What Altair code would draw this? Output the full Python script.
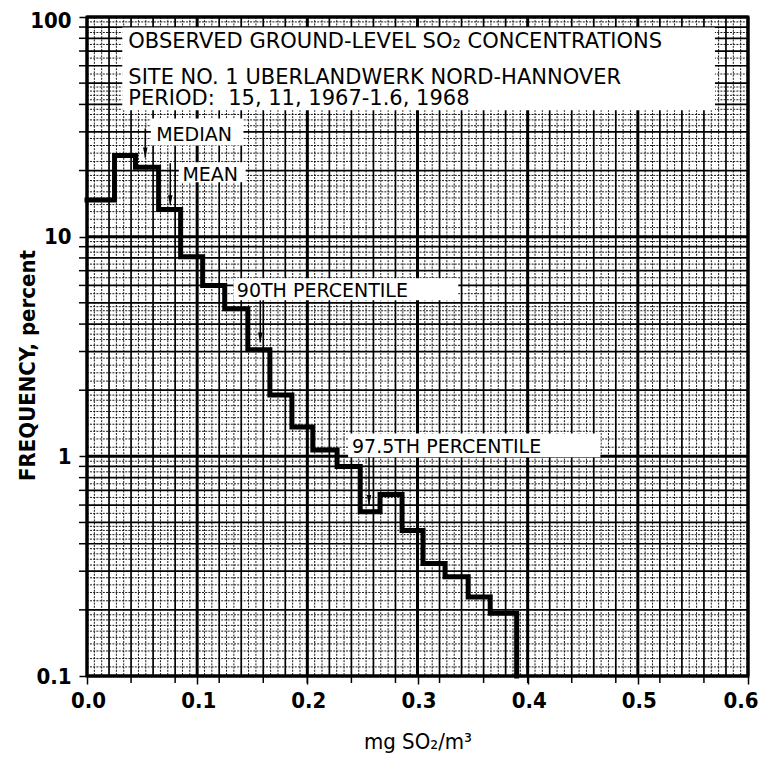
import altair as alt
import pandas as pd
import numpy as np

# ---- data ----
bin_left = [0.0, 0.025, 0.044, 0.065, 0.085, 0.105, 0.125, 0.146, 0.166, 0.186,
            0.205, 0.227, 0.248, 0.266, 0.286, 0.305, 0.325, 0.346, 0.366]
bin_right = [0.025, 0.044, 0.065, 0.085, 0.105, 0.125, 0.146, 0.166, 0.186, 0.205,
             0.227, 0.248, 0.266, 0.286, 0.305, 0.325, 0.346, 0.366, 0.390]
freq = [14.7, 23.4, 20.7, 13.3, 8.1, 6.0, 4.7, 3.06, 1.9, 1.36,
        1.07, 0.90, 0.56, 0.67, 0.46, 0.325, 0.283, 0.229, 0.193]

x_tick_labels = [0.0, 0.1, 0.2, 0.3, 0.4, 0.5, 0.6]
y_tick_labels = [0.1, 1, 10, 100]

title_lines = ["OBSERVED GROUND-LEVEL SO\u2082 CONCENTRATIONS",
               "SITE NO. 1 UBERLANDWERK NORD-HANNOVER",
               "PERIOD:\u00a0 15, 11, 1967-1.6, 1968"]
title_x = [0.0375, 0.0375, 0.0375]
title_y = [71.9, 49.8, 39.6]

marker_names = ["MEDIAN", "MEAN", "90TH PERCENTILE", "97.5TH PERCENTILE"]
marker_label_x = [0.0628, 0.0866, 0.136, 0.2405]
marker_label_y = [27.4, 18.0, 5.31, 1.036]
arrow_x = [0.0529, 0.0756, 0.1573, 0.256]
arrow_top = [31.1, 21.6, 5.13, 0.99]
arrow_tip = [22.9, 13.9, 3.3, 0.60]

# white label backgrounds
box_x1 = [0.032, 0.058, 0.0834, 0.133, 0.237]
box_x2 = [0.570, 0.142, 0.144, 0.337, 0.466]
box_y1 = [37.6, 26.0, 17.7, 5.13, 0.99]
box_y2 = [89.6, 34.5, 21.8, 6.46, 1.27]

W, H = 661, 659
XD = [0.0, 0.6]
YD = [0.1, 100]
xs = alt.Scale(domain=XD, nice=False, zero=False)
ys = alt.Scale(type="log", domain=YD, nice=False)

LABEL_FONT = "'DejaVu Sans Condensed', 'Liberation Sans Narrow', Roboto, sans-serif"
LAST = "datum.value >= 0.59"
xaxis = alt.Axis(values=x_tick_labels, format=".1f", grid=False, domain=False,
                 tickSize=8, tickWidth=1.5, tickColor="black",
                 labelFont=LABEL_FONT, labelFontWeight="bold",
                 labelFontSize=22, labelColor="black", labelPadding=6,
                 labelFlush=False,
                 labelAlign={"condition": {"test": LAST, "value": "right"}, "value": "center"},
                 labelOffset={"condition": {"test": LAST, "value": 10}, "value": 1},
                 title="mg SO\u2082/m\u00b3", titleFont=LABEL_FONT,
                 titleFontWeight="normal", titleFontSize=22, titleColor="black",
                 titleBaseline="alphabetic", titleY=72)
yaxis = alt.Axis(values=y_tick_labels, format="~g", grid=False, domain=False,
                 tickSize=8, tickWidth=1.5, tickColor="black",
                 labelFont=LABEL_FONT, labelFontWeight="bold",
                 labelFontSize=22, labelColor="black", labelPadding=8,
                 labelOffset={"condition": {"test": "datum.value >= 99", "value": 3}, "value": 0},
                 title="FREQUENCY, percent", titleFont=LABEL_FONT,
                 titleFontWeight="bold", titleFontSize=22, titleColor="black",
                 titleBaseline="middle", titleX=-60, titleY=348, titleAngle=-90)


def X(f):
    return alt.X(f, scale=xs, axis=xaxis)


def Y(f):
    return alt.Y(f, scale=ys, axis=yaxis)


# ---- step line table ----
pts = []
for i in range(len(freq)):
    pts.append((bin_left[i], freq[i]))
    pts.append((bin_right[i], freq[i]))
pts.append((bin_right[-1], YD[0]))
step = pd.DataFrame({"x": [p[0] for p in pts], "y": [p[1] for p in pts],
                     "o": list(range(len(pts)))})

# ---- graph-paper ruling ----
v_major = [round(v, 3) for v in np.arange(0, 0.6001, 0.1)]
v_med = [round(v, 4) for v in np.arange(0, 0.6001, 0.02) if round(v, 4) not in v_major]
v_fine = [v for v in np.arange(0, 0.6, 0.02 / 3)
          if min(abs(v - m) for m in v_major + v_med) > 1e-4]
h_major = [0.1, 1, 10, 100]
h_med = [k * d for d in [0.1, 1, 10] for k in range(2, 10)]
h_fine = []
for d in [0.1, 1, 10]:
    h_fine += [d * (1 + 0.1 * j) for j in range(1, 10)]
    h_fine += [d * (2 + 0.2 * j) for j in range(1, 15) if j % 5 != 0]
    h_fine += [d * (5.5 + k) for k in range(5)]
x_minor_ticks = [round(v, 3) for v in np.arange(0.04, 0.6, 0.04)]


def vrules(vals, w, dash=None, op=1.0):
    m = alt.Chart(pd.DataFrame({"x": vals})).mark_rule(
        color="black", strokeWidth=w, opacity=op, **({"strokeDash": dash} if dash else {}))
    return m.encode(x=X("x:Q"))


def hrules(vals, w, dash=None, op=1.0):
    m = alt.Chart(pd.DataFrame({"y": vals})).mark_rule(
        color="black", strokeWidth=w, opacity=op, **({"strokeDash": dash} if dash else {}))
    return m.encode(y=Y("y:Q"))


grid = [
    vrules(v_fine, 1.0, [2, 1.2], 0.9),
    hrules(h_fine, 1.0, [2, 1.2], 0.9),
    vrules(v_med, 1.7),
    hrules(h_med, 1.7),
    vrules(v_major, 3),
    hrules(h_major, 3),
]

# minor ticks outside frame
xt = alt.Chart(pd.DataFrame({"x": x_minor_ticks})).mark_rule(color="black", strokeWidth=1.5).encode(
    x=X("x:Q"), y=alt.value(H), y2=alt.value(H + 7))
yt = alt.Chart(pd.DataFrame({"y": h_med})).mark_rule(color="black", strokeWidth=1.5).encode(
    y=Y("y:Q"), x=alt.value(-8), x2=alt.value(0))

boxes = alt.Chart(pd.DataFrame({"x1": box_x1, "x2": box_x2, "y1": box_y1, "y2": box_y2})).mark_rect(
    color="white").encode(x=X("x1:Q"), x2="x2:Q", y=Y("y1:Q"), y2="y2:Q")

line = alt.Chart(step).mark_line(color="black", strokeWidth=5, strokeJoin="miter",
                                 strokeCap="square").encode(
    x=X("x:Q"), y=Y("y:Q"), order="o:Q")

arrows_df = pd.DataFrame({"x": arrow_x, "top": arrow_top, "tip": arrow_tip})
arrow_lines = alt.Chart(arrows_df).mark_rule(color="black", strokeWidth=1.5).encode(
    x=X("x:Q"), y=Y("top:Q"), y2="tip:Q")
arrow_heads = alt.Chart(arrows_df).mark_point(
    shape="M -0.45 -2 L 0.45 -2 L 0 0 Z", size=100, filled=True, color="black", opacity=1).encode(
    x=X("x:Q"), y=Y("tip:Q"))

marker_text = alt.Chart(pd.DataFrame({"t": marker_names, "x": marker_label_x, "y": marker_label_y})).mark_text(
    align="left", baseline="alphabetic", font="DejaVu Sans", fontSize=19, color="black").encode(
    x=X("x:Q"), y=Y("y:Q"), text="t:N")

title_text = alt.Chart(pd.DataFrame({"t": title_lines, "x": title_x, "y": title_y})).mark_text(
    align="left", baseline="alphabetic", font="DejaVu Sans", fontSize=21, color="black").encode(
    x=X("x:Q"), y=Y("y:Q"), text="t:N")

chart = alt.layer(*grid, xt, yt, boxes, line, arrow_lines, arrow_heads, marker_text, title_text).properties(
    width=W, height=H,
    autosize=alt.AutoSizeParams(type="none"),
    padding={"left": 79, "top": 9, "right": 10, "bottom": 78},
    background="white",
).configure_view(stroke="black", strokeWidth=3)

chart.save("out.html", embed_options={"renderer": "svg", "actions": False})
